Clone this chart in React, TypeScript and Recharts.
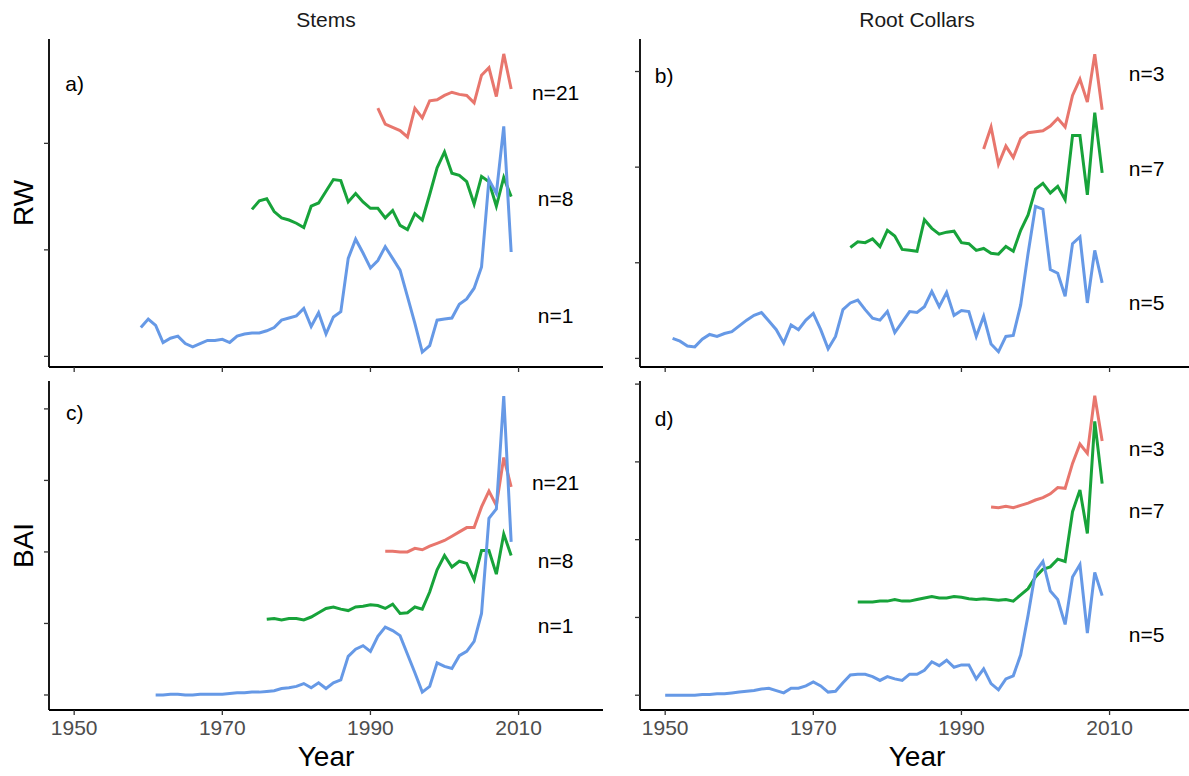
import React from 'react';
import { LineChart, Line, XAxis, YAxis, ReferenceDot } from 'recharts';

const FONT = '"Liberation Sans", Arial, Helvetica, sans-serif';
const RED = '#E8766D';
const GREEN = '#17A33A';
const BLUE = '#6699E6';

const YEAR_TICKS = [1950, 1970, 1990, 2010];
const YEAR_DOMAIN: [number, number] = [1946.6, 2021.4];

// Ring width (RW), stems
const stemRwN1Start = 1959;
const stemRwN1 = [
  1.27, 1.35, 1.29, 1.13, 1.17, 1.19, 1.12, 1.09, 1.12, 1.15,
  1.15, 1.16, 1.13, 1.19, 1.21, 1.22, 1.22, 1.24, 1.27, 1.34,
  1.36, 1.38, 1.45, 1.28, 1.41, 1.21, 1.37, 1.42, 1.92, 2.10,
  1.97, 1.83, 1.90, 2.03, 1.92, 1.81, 1.56, 1.31, 1.04, 1.10,
  1.34, 1.35, 1.36, 1.49, 1.54, 1.64, 1.84, 2.66, 2.53, 3.16, 1.98,
];
const stemRwN8Start = 1974;
const stemRwN8 = [
  2.38, 2.46, 2.48, 2.36, 2.30, 2.28, 2.25, 2.21, 2.41, 2.44,
  2.55, 2.66, 2.65, 2.45, 2.53, 2.45, 2.39, 2.39, 2.30, 2.37,
  2.23, 2.19, 2.34, 2.28, 2.52, 2.77, 2.92, 2.72, 2.70, 2.64,
  2.43, 2.69, 2.64, 2.41, 2.68, 2.50,
];
const stemRwN21Start = 1991;
const stemRwN21 = [
  3.33, 3.18, 3.15, 3.12, 3.06, 3.33, 3.24, 3.40, 3.41, 3.45,
  3.48, 3.46, 3.45, 3.38, 3.64, 3.71, 3.44, 3.84, 3.51,
];

// Ring width (RW), root collars
const rootRwN5Start = 1951;
const rootRwN5 = [
  1.21, 1.18, 1.13, 1.12, 1.20, 1.25, 1.23, 1.26, 1.28, 1.34,
  1.40, 1.45, 1.48, 1.39, 1.30, 1.16, 1.35, 1.30, 1.40, 1.47,
  1.30, 1.10, 1.23, 1.51, 1.58, 1.61, 1.51, 1.42, 1.40, 1.49,
  1.27, 1.38, 1.49, 1.48, 1.54, 1.70, 1.54, 1.69, 1.45, 1.50,
  1.49, 1.23, 1.44, 1.15, 1.07, 1.23, 1.24, 1.56, 2.10, 2.59,
  2.56, 1.93, 1.89, 1.65, 2.20, 2.27, 1.58, 2.13, 1.79,
];
const rootRwN7Start = 1975;
const rootRwN7 = [
  2.16, 2.22, 2.21, 2.25, 2.17, 2.34, 2.28, 2.14, 2.13, 2.12,
  2.45, 2.36, 2.30, 2.32, 2.33, 2.21, 2.20, 2.13, 2.15, 2.10,
  2.09, 2.17, 2.12, 2.34, 2.50, 2.77, 2.83, 2.73, 2.80, 2.66,
  3.33, 3.33, 2.71, 3.57, 2.94,
];
const rootRwN3Start = 1993;
const rootRwN3 = [
  3.19, 3.42, 3.03, 3.22, 3.10, 3.30, 3.36, 3.37, 3.38, 3.43,
  3.51, 3.42, 3.75, 3.92, 3.68, 4.18, 3.60,
];

// Basal area increment (BAI), stems
const stemBaiN1Start = 1961;
const stemBaiN1 = [
  1.00, 1.00, 1.01, 1.01, 1.00, 1.00, 1.01, 1.01, 1.01, 1.01,
  1.02, 1.03, 1.03, 1.04, 1.04, 1.05, 1.06, 1.09, 1.10, 1.12,
  1.16, 1.10, 1.17, 1.09, 1.17, 1.21, 1.54, 1.64, 1.69, 1.61,
  1.82, 1.95, 1.90, 1.83, 1.57, 1.31, 1.04, 1.12, 1.45, 1.40,
  1.37, 1.55, 1.61, 1.75, 2.14, 3.47, 3.60, 5.18, 3.14,
];
const stemBaiN8Start = 1976;
const stemBaiN8 = [
  2.06, 2.07, 2.05, 2.07, 2.07, 2.05, 2.09, 2.15, 2.21, 2.23,
  2.20, 2.18, 2.23, 2.24, 2.26, 2.25, 2.21, 2.27, 2.14, 2.15,
  2.23, 2.20, 2.44, 2.75, 2.95, 2.79, 2.87, 2.84, 2.61, 3.02,
  3.02, 2.69, 3.25, 2.95,
];
const stemBaiN21Start = 1992;
const stemBaiN21 = [
  3.01, 3.01, 3.00, 3.00, 3.05, 3.03, 3.08, 3.12, 3.16, 3.22,
  3.28, 3.34, 3.34, 3.63, 3.85, 3.65, 4.32, 3.91,
];

// Basal area increment (BAI), root collars
const rootBaiN5Start = 1950;
const rootBaiN5 = [
  1.00, 1.00, 1.00, 1.00, 1.00, 1.01, 1.01, 1.02, 1.02, 1.03,
  1.04, 1.05, 1.06, 1.08, 1.09, 1.06, 1.03, 1.09, 1.09, 1.12,
  1.17, 1.12, 1.04, 1.05, 1.16, 1.26, 1.27, 1.27, 1.24, 1.19,
  1.24, 1.21, 1.19, 1.27, 1.27, 1.32, 1.43, 1.38, 1.45, 1.36,
  1.39, 1.39, 1.21, 1.34, 1.15, 1.07, 1.21, 1.25, 1.52, 2.03,
  2.59, 2.72, 2.34, 2.23, 1.91, 2.52, 2.68, 1.80, 2.58, 2.28,
];
const rootBaiN7Start = 1976;
const rootBaiN7 = [
  2.20, 2.20, 2.20, 2.21, 2.21, 2.23, 2.21, 2.21, 2.23, 2.25,
  2.27, 2.25, 2.25, 2.27, 2.26, 2.24, 2.23, 2.24, 2.23, 2.22,
  2.23, 2.21, 2.29, 2.37, 2.52, 2.62, 2.65, 2.75, 2.72, 3.36,
  3.64, 3.08, 4.52, 3.72,
];
const rootBaiN3Start = 1994;
const rootBaiN3 = [
  3.42, 3.41, 3.43, 3.41, 3.44, 3.47, 3.51, 3.54, 3.59, 3.67,
  3.66, 3.98, 4.23, 4.11, 4.85, 4.27,
];

// sample-size labels: text and height in each panel
const stemRwLabels = ['n=21', 'n=8', 'n=1'];
const stemRwLabelY = [3.48, 2.48, 1.38];
const rootRwLabels = ['n=3', 'n=7', 'n=5'];
const rootRwLabelY = [3.98, 2.99, 1.58];
const stemBaiLabels = ['n=21', 'n=8', 'n=1'];
const stemBaiLabelY = [3.97, 2.875, 1.97];
const rootBaiLabels = ['n=3', 'n=7', 'n=5'];
const rootBaiLabelY = [4.17, 3.38, 1.78];
const LABEL_YEAR = 2015;

interface Series {
  start: number;
  values: number[];
  color: string;
}

interface PanelProps {
  left: number;
  top: number;
  width: number;
  height: number;
  showYears: boolean;
  yDomain: [number, number];
  yTicks: number[];
  series: Series[];
  labels: string[];
  labelY: number[];
  letter: string;
  letterX: number;
  letterY: number;
}

const toPoints = (start: number, values: number[]) =>
  values.map((v, i) => ({ year: start + i, v }));

// keeps the tick marks but draws no tick text
const NoTickText = () => <g />;

const Panel: React.FC<PanelProps> = ({
  left, top, width, height, showYears, yDomain, yTicks, series, labels, labelY, letter, letterX, letterY,
}) => {
  const margin = { top: 6, right: 6, bottom: 0, left: 10 };
  const axisH = showYears ? 40 : 10;
  return (
    <div style={{ position: 'absolute', left: left - margin.left - 1, top: top - margin.top }}>
      <LineChart
        width={width + margin.left + 1 + margin.right}
        height={height + margin.top + axisH}
        margin={margin}
      >
        <XAxis
          type="number"
          dataKey="year"
          domain={YEAR_DOMAIN}
          ticks={YEAR_TICKS}
          allowDataOverflow
          height={axisH}
          tick={showYears ? { fill: '#4D4D4D', fontSize: 21 } : NoTickText}
          tickSize={5}
          tickMargin={5}
          axisLine={{ stroke: '#000', strokeWidth: 1.8 }}
          tickLine={{ stroke: '#333', strokeWidth: 1.3 }}
        />
        <YAxis
          type="number"
          width={1}
          domain={yDomain}
          ticks={yTicks}
          allowDataOverflow
          tick={NoTickText}
          tickSize={5}
          axisLine={{ stroke: '#000', strokeWidth: 1.8 }}
          tickLine={{ stroke: '#333', strokeWidth: 1.3 }}
        />
        {series.map((s, i) => (
          <Line
            key={i}
            data={toPoints(s.start, s.values)}
            dataKey="v"
            type="linear"
            stroke={s.color}
            strokeWidth={3}
            dot={false}
            activeDot={false}
            isAnimationActive={false}
          />
        ))}
        {labels.map((text, i) => (
          <ReferenceDot
            key={text}
            x={LABEL_YEAR}
            y={labelY[i]}
            r={0}
            fill="none"
            stroke="none"
            ifOverflow="visible"
            label={{ value: text, position: 'center', fill: '#000', fontSize: 21 }}
          />
        ))}
        <ReferenceDot
          x={letterX}
          y={letterY}
          r={0}
          fill="none"
          stroke="none"
          ifOverflow="visible"
          label={{ value: letter, position: 'right', offset: 0, fill: '#000', fontSize: 21 }}
        />
      </LineChart>
    </div>
  );
};

const PLOT_W = 554;
const LEFT_X = 49;
const RIGHT_X = 640;
const TOP_Y = 39;
const TOP_H = 328;
const BOTTOM_Y = 381;
const BOTTOM_H = 329;

export default function App() {
  return (
    <div
      style={{
        position: 'absolute',
        left: 0,
        top: 0,
        width: 1189,
        height: 776,
        overflow: 'hidden',
        background: '#fff',
        fontFamily: FONT,
      }}
    >
      <Panel
        left={LEFT_X} top={TOP_Y} width={PLOT_W} height={TOP_H} showYears={false}
        yDomain={[0.9, 3.98]} yTicks={[1, 2, 3]}
        series={[
          { start: stemRwN21Start, values: stemRwN21, color: RED },
          { start: stemRwN8Start, values: stemRwN8, color: GREEN },
          { start: stemRwN1Start, values: stemRwN1, color: BLUE },
        ]}
        labels={stemRwLabels} labelY={stemRwLabelY}
        letter="a)" letterX={1948.8} letterY={3.56}
      />
      <Panel
        left={RIGHT_X} top={TOP_Y} width={PLOT_W} height={TOP_H} showYears={false}
        yDomain={[0.91, 4.34]} yTicks={[1, 2, 3, 4]}
        series={[
          { start: rootRwN3Start, values: rootRwN3, color: RED },
          { start: rootRwN7Start, values: rootRwN7, color: GREEN },
          { start: rootRwN5Start, values: rootRwN5, color: BLUE },
        ]}
        labels={rootRwLabels} labelY={rootRwLabelY}
        letter="b)" letterX={1948.6} letterY={3.96}
      />
      <Panel
        left={LEFT_X} top={BOTTOM_Y} width={PLOT_W} height={BOTTOM_H} showYears
        yDomain={[0.79, 5.39]} yTicks={[1, 2, 3, 4, 5]}
        series={[
          { start: stemBaiN21Start, values: stemBaiN21, color: RED },
          { start: stemBaiN8Start, values: stemBaiN8, color: GREEN },
          { start: stemBaiN1Start, values: stemBaiN1, color: BLUE },
        ]}
        labels={stemBaiLabels} labelY={stemBaiLabelY}
        letter="c)" letterX={1948.9} letterY={4.95}
      />
      <Panel
        left={RIGHT_X} top={BOTTOM_Y} width={PLOT_W} height={BOTTOM_H} showYears
        yDomain={[0.81, 5.04]} yTicks={[1, 2, 3, 4, 5]}
        series={[
          { start: rootBaiN3Start, values: rootBaiN3, color: RED },
          { start: rootBaiN7Start, values: rootBaiN7, color: GREEN },
          { start: rootBaiN5Start, values: rootBaiN5, color: BLUE },
        ]}
        labels={rootBaiLabels} labelY={rootBaiLabelY}
        letter="d)" letterX={1948.6} letterY={4.56}
      />
      {/* facet strips, row titles and axis titles */}
      <svg
        width={1189}
        height={776}
        style={{ position: 'absolute', left: 0, top: 0, pointerEvents: 'none' }}
        fontFamily={FONT}
      >
        <text x={LEFT_X + PLOT_W / 2} y={27} textAnchor="middle" fontSize={21} fill="#1a1a1a">Stems</text>
        <text x={RIGHT_X + PLOT_W / 2} y={27} textAnchor="middle" fontSize={21} fill="#1a1a1a">Root Collars</text>
        <text
          x={0} y={0} textAnchor="middle" fontSize={28} fill="#000"
          transform={`translate(33, ${TOP_Y + TOP_H / 2}) rotate(-90)`}
        >RW</text>
        <text
          x={0} y={0} textAnchor="middle" fontSize={28} fill="#000"
          transform={`translate(33, ${BOTTOM_Y + BOTTOM_H / 2}) rotate(-90)`}
        >BAI</text>
        <text x={LEFT_X + PLOT_W / 2} y={766} textAnchor="middle" fontSize={28} fill="#000">Year</text>
        <text x={RIGHT_X + PLOT_W / 2} y={766} textAnchor="middle" fontSize={28} fill="#000">Year</text>
      </svg>
    </div>
  );
}
